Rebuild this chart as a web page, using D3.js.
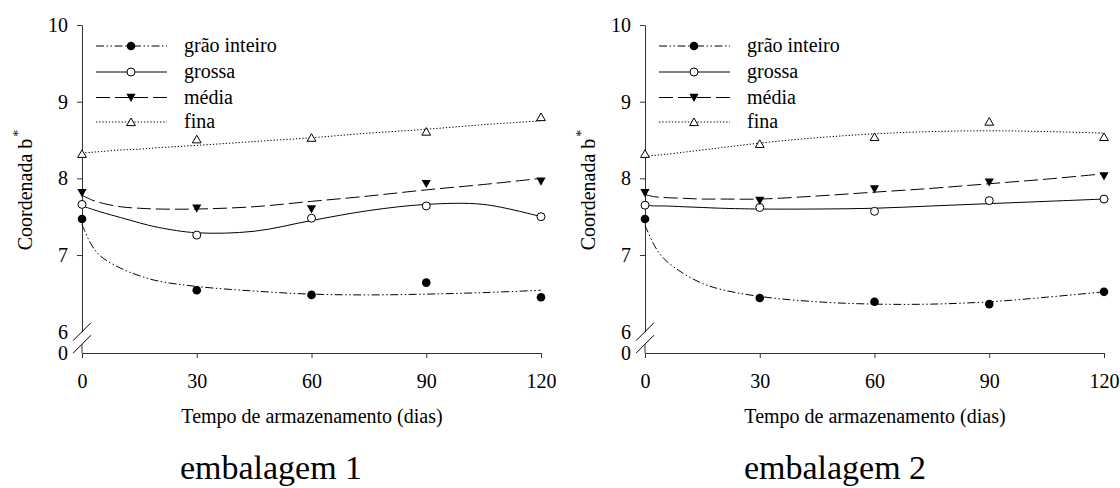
<!DOCTYPE html>
<html>
<head>
<meta charset="utf-8">
<script src="https://cdn.jsdelivr.net/npm/d3@7"></script>
<style>
  html, body { margin: 0; padding: 0; background: #fff; }
  svg { display: block; }
</style>
</head>
<body>
<svg id="chart" width="1120" height="488"></svg>
<script>
// ---------- data ----------
const seriesNames = ["grão inteiro", "grossa", "média", "fina"];
const days = [0, 30, 60, 90, 120];
const xTicks = [0, 30, 60, 90, 120];
const yTicks = [10, 9, 8, 7];
const yBreakLabels = ["6", "0"];
const panelTitles = ["embalagem 1", "embalagem 2"];
const xTitle = "Tempo de armazenamento (dias)";
const yTitle = "Coordenada b";

// observed points, embalagem 1
const p1Grao   = [7.47, 6.54, 6.48, 6.64, 6.45];
const p1Grossa = [7.66, 7.26, 7.48, 7.64, 7.50];
const p1Media  = [7.81, 7.61, 7.60, 7.93, 7.96];
const p1Fina   = [8.32, 8.51, 8.53, 8.61, 8.80];
// observed points, embalagem 2
const p2Grao   = [7.47, 6.44, 6.39, 6.36, 6.52];
const p2Grossa = [7.65, 7.62, 7.57, 7.71, 7.73];
const p2Media  = [7.81, 7.71, 7.86, 7.95, 8.03];
const p2Fina   = [8.32, 8.45, 8.54, 8.74, 8.54];

// fitted curves
const fitDays = [0, 2.5, 5, 10, 15, 20, 30, 45, 60, 75, 90, 105, 120];
const f1Grao   = [7.40, 7.13, 6.98, 6.83, 6.73, 6.66, 6.59, 6.53, 6.49, 6.48, 6.49, 6.51, 6.54];
const f1Grossa = [7.64, 7.60, 7.56, 7.49, 7.42, 7.36, 7.29, 7.31, 7.45, 7.58, 7.66, 7.66, 7.50];
const f1Media  = [7.78, 7.72, 7.68, 7.63, 7.61, 7.60, 7.60, 7.63, 7.70, 7.77, 7.85, 7.92, 8.00];
const f1Fina   = [8.33, 8.34, 8.35, 8.37, 8.38, 8.40, 8.43, 8.48, 8.53, 8.59, 8.64, 8.70, 8.75];
const f2Grao   = [7.39, 7.12, 6.95, 6.76, 6.63, 6.55, 6.46, 6.39, 6.36, 6.36, 6.39, 6.45, 6.52];
const f2Grossa = [7.65, 7.64, 7.64, 7.63, 7.62, 7.61, 7.60, 7.60, 7.61, 7.64, 7.67, 7.70, 7.73];
const f2Media  = [7.79, 7.76, 7.75, 7.74, 7.73, 7.73, 7.73, 7.77, 7.82, 7.87, 7.93, 7.99, 8.06];
const f2Fina   = [8.28, 8.30, 8.31, 8.34, 8.37, 8.40, 8.46, 8.53, 8.58, 8.61, 8.62, 8.61, 8.59];

// ---------- drawing ----------
const FONT = "Liberation Serif";
const svg = d3.select("#chart");
const dashes = ["8,2.5,1.5,2.5,1.5,2.5", null, "14,5", "1.3,1.9"];
const markers = ["fcircle", "ocircle", "tdown", "tup"];

function txt(g) {
  return g.append("text").attr("font-family", FONT).attr("fill", "#000");
}

function drawMarker(g, type, cx, cy) {
  if (type === "fcircle") {
    g.append("circle").attr("cx", cx).attr("cy", cy).attr("r", 4.3).attr("fill", "#000");
  } else if (type === "ocircle") {
    g.append("circle").attr("cx", cx).attr("cy", cy).attr("r", 4).attr("fill", "#fff")
      .attr("stroke", "#000").attr("stroke-width", 1);
  } else if (type === "tdown") {
    g.append("path").attr("d", `M${cx-4.6},${cy-3.8}L${cx+4.6},${cy-3.8}L${cx},${cy+4.4}Z`).attr("fill", "#000");
  } else {
    g.append("path").attr("d", `M${cx-4.4},${cy+3.6}L${cx+4.4},${cy+3.6}L${cx},${cy-4}Z`).attr("fill", "#fff")
      .attr("stroke", "#000").attr("stroke-width", 1);
  }
}

function drawPanel(idx, x0, titleCx, yTitleX, pts, fits) {
  const x = d3.scaleLinear().domain([0, 120]).range([x0, x0 + 459]);
  const y = d3.scaleLinear().domain([6, 10]).range([331.7, 25]);
  const axisY = 353;
  const g = svg.append("g");

  // y axis
  const ya = g.append("g").attr("transform", `translate(${x0},0)`)
    .call(d3.axisLeft(y).tickValues(yTicks).tickFormat(d3.format("d")).tickSize(5).tickSizeOuter(0).tickPadding(9));
  ya.attr("font-family", FONT).attr("font-size", 20);
  ya.selectAll("text").attr("font-family", FONT).attr("font-size", 20).attr("fill", "#000");
  ya.selectAll("path,line").attr("stroke", "#333");
  // break labels
  txt(g).attr("x", x0 - 14).attr("y", y(6)).attr("dy", "0.34em").attr("text-anchor", "end")
    .attr("font-size", 20).text(yBreakLabels[0]);
  txt(g).attr("x", x0 - 14).attr("y", axisY).attr("dy", "0.34em").attr("text-anchor", "end")
    .attr("font-size", 20).text(yBreakLabels[1]);
  // break marks and lower segment
  const c1 = y(6), c2 = y(6) + 12.5;
  g.append("line").attr("x1", x0 - 9).attr("y1", c1 + 9).attr("x2", x0 + 9).attr("y2", c1 - 9).attr("stroke", "#000");
  g.append("line").attr("x1", x0 - 9).attr("y1", c2 + 9).attr("x2", x0 + 9).attr("y2", c2 - 9).attr("stroke", "#000");
  g.append("line").attr("x1", x0).attr("y1", c2).attr("x2", x0).attr("y2", axisY).attr("stroke", "#333");

  // x axis
  const xa = g.append("g").attr("transform", `translate(0,${axisY})`)
    .call(d3.axisBottom(x).tickValues(xTicks).tickFormat(d3.format("d")).tickSize(5).tickSizeOuter(0).tickPadding(16));
  xa.attr("font-family", FONT).attr("font-size", 20);
  xa.selectAll("text").attr("font-family", FONT).attr("font-size", 20).attr("fill", "#000");
  xa.selectAll("path,line").attr("stroke", "#333");

  // titles
  txt(g).attr("x", x0 + 230).attr("y", 423).attr("text-anchor", "middle")
    .attr("font-size", 20).text(xTitle);
  const yt = txt(g).attr("transform", `translate(${yTitleX},190) rotate(-90)`)
    .attr("text-anchor", "middle").attr("font-size", 20);
  yt.append("tspan").text(yTitle);
  yt.append("tspan").attr("dx", 2).attr("dy", -9).attr("font-size", 14).text("*");
  txt(g).attr("x", titleCx).attr("y", 479).attr("text-anchor", "middle")
    .attr("font-size", 34).text(panelTitles[idx]);

  // fitted lines
  const line = d3.line().x(d => x(d[0])).y(d => y(d[1])).curve(d3.curveCatmullRom.alpha(0.5));
  fits.forEach((vals, i) => {
    const p = g.append("path").datum(fitDays.map((d, k) => [d, vals[k]]))
      .attr("d", line).attr("fill", "none").attr("stroke", "#000").attr("stroke-width", 1);
    if (dashes[i]) p.attr("stroke-dasharray", dashes[i]);
  });
  // points
  pts.forEach((vals, i) => {
    days.forEach((d, k) => drawMarker(g, markers[i], x(d), y(vals[k])));
  });

  // legend
  const rows = [46, 72, 97.5, 122];
  seriesNames.forEach((name, i) => {
    const ly = rows[i];
    const l = g.append("line").attr("x1", x0 + 14).attr("x2", x0 + 85).attr("y1", ly).attr("y2", ly)
      .attr("stroke", "#000").attr("stroke-width", 1);
    if (dashes[i]) l.attr("stroke-dasharray", dashes[i]);
    drawMarker(g, markers[i], x0 + 49, ly);
    txt(g).attr("x", x0 + 102).attr("y", ly).attr("dy", "0.32em").attr("font-size", 20).text(name);
  });
}

drawPanel(0, 82, 271, 32, [p1Grao, p1Grossa, p1Media, p1Fina], [f1Grao, f1Grossa, f1Media, f1Fina]);
drawPanel(1, 645, 835, 595, [p2Grao, p2Grossa, p2Media, p2Fina], [f2Grao, f2Grossa, f2Media, f2Fina]);
</script>
</body>
</html>
